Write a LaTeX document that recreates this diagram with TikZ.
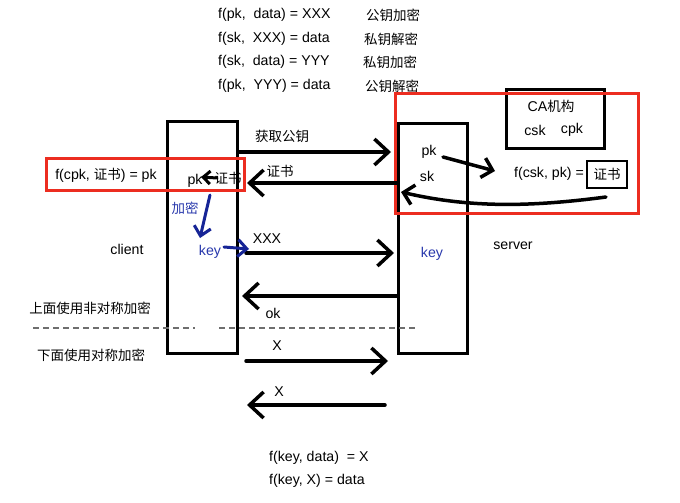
\documentclass[tikz,border=0pt]{standalone}
\usepackage{fontspec}
\setmainfont{Liberation Sans}[Scale=1.05]
\newfontfamily\cjk{Noto Sans CJK SC}
\usetikzlibrary{arrows.meta}
\definecolor{redbox}{RGB}{236,45,32}
\definecolor{inkblue}{RGB}{22,36,150}
\definecolor{textblue}{RGB}{40,56,172}
\definecolor{dashgray}{RGB}{110,110,110}
\tikzset{
  txt/.style={inner sep=0pt, font=\fontsize{13.5}{16}\selectfont},
  btxt/.style={txt, text=textblue},
  lifebox/.style={draw=black, line width=3pt, inner sep=0pt},
  redframe/.style={draw=redbox, line width=3pt, inner sep=0pt},
  bigarrow/.style={line width=3.5pt, line cap=round, line join=round,
    -{Straight Barb[length=14pt,width=26pt]}},
  midarrow/.style={line width=3.5pt, line cap=round, line join=round,
    -{Straight Barb[length=10pt,width=20pt]}},
  smallarrow/.style={line width=3pt, line cap=round, line join=round,
    -{Straight Barb[length=7pt,width=13pt]}},
  bluearrow/.style={draw=inkblue, line width=3pt, line cap=round, line join=round,
    -{Straight Barb[length=9pt,width=17pt]}},
  sepline/.style={draw=dashgray, line width=1.3pt, dash pattern=on 6pt off 4pt},
}
\begin{document}
\begin{tikzpicture}[x=1pt,y=-1pt]
\useasboundingbox (0,0) rectangle (680,503);

% top formulas
\node[txt, anchor=west] (f1) at (218,15) {f(pk,\ \ data) = XXX};
\node[txt, anchor=west] (f2) at (218,39) {f(sk,\ \ XXX) = data};
\node[txt, anchor=west] (f3) at (218,62) {f(sk,\ \ data) = YYY};
\node[txt, anchor=west] (f4) at (218,86) {f(pk,\ \ YYY) = data};
\node[txt] (c1) at (393,15) {\cjk 公钥加密};
\node[txt] (c2) at (391,39) {\cjk 私钥解密};
\node[txt] (c3) at (390,62) {\cjk 私钥加密};
\node[txt] (c4) at (392,86) {\cjk 公钥解密};

% lifeline boxes
\node[lifebox, minimum width=70pt, minimum height=232pt] (client) at (202,237) {};
\node[lifebox, minimum width=69pt, minimum height=230pt] (server) at (432.5,238) {};

% CA box
\node[lifebox, minimum width=98pt, minimum height=59pt] (ca) at (555,118.5) {};
\node[txt] (catitle) at (551,106) {CA{\cjk 机构}};
\node[txt] (csk) at (535,130) {csk};
\node[txt] (cpk) at (572,130) {cpk};

% certificate in CA area
\node[txt] (fcsk) at (549,174) {f(csk, pk) =};
\node[draw=black, line width=2.5pt, minimum width=40pt, minimum height=27pt, inner sep=0pt,
      font=\fontsize{13.5}{16}\selectfont] (cert) at (607,174.5) {\cjk 证书};

% red frames
\node[redframe, minimum width=198pt, minimum height=32pt] (redL) at (145,174) {};
\node[redframe, minimum width=243pt, minimum height=120pt] (redR) at (516.5,153) {};

% labels
\node[txt] (fcpk) at (106,175) {f(cpk, {\cjk 证书}) = pk};
\node[txt] (cpkl) at (195,181) {pk};
\node[txt] (ccert) at (228,178) {\cjk 证书};
\node[btxt] (jiami) at (185,208) {\cjk 加密};
\node[btxt] (ckey) at (210,252) {key};
\node[txt] (clientl) at (127,249) {client};
\node[txt] (spk) at (429,152) {pk};
\node[txt] (ssk) at (427,176) {sk};
\node[btxt] (skey) at (432,254) {key};
\node[txt] (serverl) at (513,246) {server};

\node[txt] (l1) at (282,136) {\cjk 获取公钥};
\node[txt] (l2) at (280,171) {\cjk 证书};
\node[txt] (l3) at (267,239) {XXX};
\node[txt] (l4) at (273,313) {ok};
\node[txt] (l5) at (277,346) {X};
\node[txt] (l6) at (279,392) {X};

\node[txt] (up) at (90,308) {\cjk 上面使用非对称加密};
\node[txt] (down) at (91,355) {\cjk 下面使用对称加密};

\node[txt, anchor=west] (b1) at (269,458) {f(key, data)\ \ = X};
\node[txt, anchor=west] (b2) at (269,481) {f(key, X) = data};

% connector end points
\coordinate (a1s) at (238,152); \coordinate (a1e) at (391,152);
\coordinate (a2s) at (397,183); \coordinate (a2e) at (247,183);
\coordinate (a3s) at (246,253); \coordinate (a3e) at (394,253);
\coordinate (a4s) at (397,296); \coordinate (a4e) at (242,296);
\coordinate (a5s) at (246,361); \coordinate (a5e) at (388,361);
\coordinate (a6s) at (385,405); \coordinate (a6e) at (247,405);
\coordinate (pks) at (443,157); \coordinate (pke) at (495,171);
\coordinate (cvs) at (606,197); \coordinate (cve) at (401,192);
\coordinate (cls) at (217,178); \coordinate (cle) at (201,177);
\coordinate (jms) at (210,195); \coordinate (jme) at (200,238);
\coordinate (kys) at (224,247); \coordinate (kye) at (249,249);

% connectors
\draw[bigarrow] (a1s) -- (a1e);
\draw[bigarrow] (a2s) -- (a2e);
\draw[bigarrow] (a3s) -- (a3e);
\draw[bigarrow] (a4s) -- (a4e);
\draw[bigarrow] (a5s) -- (a5e);
\draw[bigarrow] (a6s) -- (a6e);
\draw[midarrow] (pks) -- (pke);
\draw[midarrow] (cvs) .. controls (530,207) and (470,208) .. (cve);
\draw[smallarrow] (cls) -- (cle);
\draw[bluearrow] (jms) .. controls (206,212) .. (jme);
\draw[bluearrow] (kys) -- (kye);

% separator
\draw[sepline] (33,328) -- (195,328);
\draw[sepline] (219,328) -- (416,328);
\end{tikzpicture}
\end{document}
